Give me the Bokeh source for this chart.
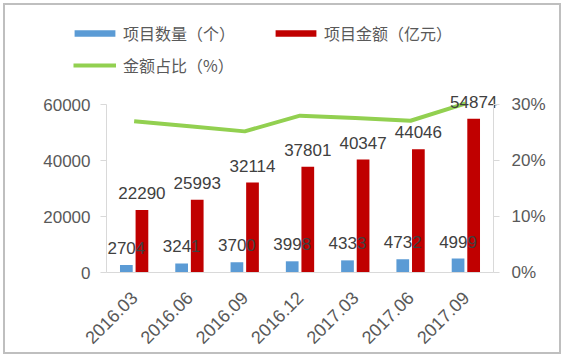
import math
from bokeh.plotting import figure
from bokeh.models import (ColumnDataSource, Range1d, LinearAxis, FixedTicker,
                          PrintfTickFormatter, NumeralTickFormatter, Legend,
                          LegendItem)
from bokeh.embed import file_html
from bokeh.resources import INLINE
from bokeh.core.properties import value

periods = ["2016.03", "2016.06", "2016.09", "2016.12", "2017.03", "2017.06", "2017.09"]
project_count = [2704, 3241, 3700, 3998, 4333, 4732, 4999]
project_amount = [22290, 25993, 32114, 37801, 40347, 44046, 54874]
amount_share = [27.0, 26.1, 25.2, 28.0, 27.6, 27.1, 30.2]
left_ticks = [0, 20000, 40000, 60000]
right_ticks = [0, 10, 20, 30]

idx = list(range(len(periods)))
OFF, BW = 0.141, 0.23
src = ColumnDataSource(dict(
    pos=idx,
    pos_l=[i - OFF for i in idx],
    pos_r=[i + OFF for i in idx],
    period=periods,
    base=[0] * len(periods),
    count=project_count,
    amount=project_amount,
    share=amount_share,
    count_lbl=[str(v) for v in project_count],
    amount_lbl=[str(v) for v in project_amount],
))

GREY = "#595959"
AXIS = "#d9d9d9"
NUMFONT = "Liberation Sans"
CJK = "Noto Sans CJK SC"

# page geometry: plotting area spans x 106..493, y 104..272 (of a 564x357 canvas)
W, H = 564, 357
PX_L, PX_R, PY_T, PY_B = 106, 493, 104, 272
n = len(periods)
unit = (PX_R - PX_L) / n
x_start = -0.5 - PX_L / unit
x_end = n - 0.5 + (W - PX_R) / unit
y_scale = left_ticks[-1] / (PY_B - PY_T)
r_scale = right_ticks[-1] / (PY_B - PY_T)

p = figure(x_range=Range1d(x_start, x_end),
           y_range=Range1d(-(H - PY_B) * y_scale, PY_B * y_scale),
           width=W, height=H, output_backend="svg", toolbar_location=None,
           min_border_left=0, min_border_right=0, min_border_top=0,
           min_border_bottom=0)
p.border_fill_color = None
p.background_fill_color = None
p.styles = {"outline": "2px solid #bfbfbf", "outline-offset": "-5px"}
p.extra_y_ranges = {"pct": Range1d(-(H - PY_B) * r_scale, PY_B * r_scale)}
p.outline_line_color = None
p.xgrid.grid_line_color = None
p.ygrid.grid_line_color = None

blue = p.vbar(x="pos_l", top="count", width=BW, source=src,
              fill_color="#5b9bd5", line_color=None)
red = p.vbar(x="pos_r", top="amount", width=BW, source=src,
             fill_color="#c00000", line_color=None)
line = p.line(x="pos", y="share", source=src, y_range_name="pct",
              line_color="#92d050", line_width=4)

p.text(x="pos_l", y="count", text="count_lbl", source=src, text_align="center",
       text_baseline="alphabetic", y_offset=-17, text_font_size="17px",
       text_color="#404040", text_font=value(NUMFONT))
p.text(x="pos_r", y="amount", text="amount_lbl", source=src, text_align="center",
       text_baseline="alphabetic", y_offset=-17, text_font_size="17px",
       text_color="#404040", text_font=value(NUMFONT))

# category labels, rotated 45 degrees below the baseline
p.text(x="pos", y="base", text="period", source=src, angle=math.pi / 4,
       text_align="right", text_baseline="middle", x_offset=0, y_offset=22,
       text_font_size="18px", text_color=GREY, text_font=value(NUMFONT))

# left axis (drawn at the left edge of the category band)
ya = p.yaxis[0]
ya.fixed_location = -0.5
ya.ticker = FixedTicker(ticks=left_ticks)
ya.bounds = (left_ticks[0], left_ticks[-1])
ya.formatter = NumeralTickFormatter(format="0")
ya.axis_line_color = AXIS
ya.major_tick_line_color = AXIS
ya.major_tick_out = 6
ya.major_tick_in = 0
ya.minor_tick_line_color = None
ya.major_label_text_font_size = "17px"
ya.major_label_text_color = GREY
ya.major_label_text_font = NUMFONT
ya.major_label_standoff = 10

# right axis
ra = LinearAxis(y_range_name="pct", ticker=FixedTicker(ticks=right_ticks),
                formatter=PrintfTickFormatter(format="%d%%"),
                bounds=(right_ticks[0], right_ticks[-1]), fixed_location=n - 0.5)
ra.axis_line_color = AXIS
ra.major_tick_line_color = AXIS
ra.major_tick_out = 6
ra.major_tick_in = 0
ra.minor_tick_line_color = None
ra.major_label_text_font_size = "17px"
ra.major_label_text_color = GREY
ra.major_label_text_font = NUMFONT
ra.major_label_standoff = 12
p.add_layout(ra, "right")

# x axis: baseline only
xa = p.xaxis[0]
xa.fixed_location = 0
xa.ticker = FixedTicker(ticks=[])
xa.bounds = (-0.5, n - 0.5)
xa.axis_line_color = AXIS
xa.major_tick_line_color = None
xa.minor_tick_line_color = None

legA = Legend(items=[LegendItem(label="项目数量（个）", renderers=[blue]),
                     LegendItem(label="项目金额（亿元）", renderers=[red])],
              orientation="horizontal", location=(69, H - 45), padding=0, margin=0,
              spacing=35, glyph_width=51, glyph_height=8, label_height=20,
              label_standoff=3, border_line_color=None, background_fill_alpha=0,
              label_text_font=CJK, label_text_font_size="16px", label_text_color=GREY)
legB = Legend(items=[LegendItem(label="金额占比（%）", renderers=[line])],
              orientation="horizontal", location=(73, H - 77), padding=0, margin=0,
              glyph_width=43, glyph_height=20, label_height=20, label_standoff=7,
              border_line_color=None, background_fill_alpha=0,
              label_text_font=CJK, label_text_font_size="16px", label_text_color=GREY)
p.add_layout(legA)
p.add_layout(legB)

open("out.html", "w").write(file_html(p, INLINE))
